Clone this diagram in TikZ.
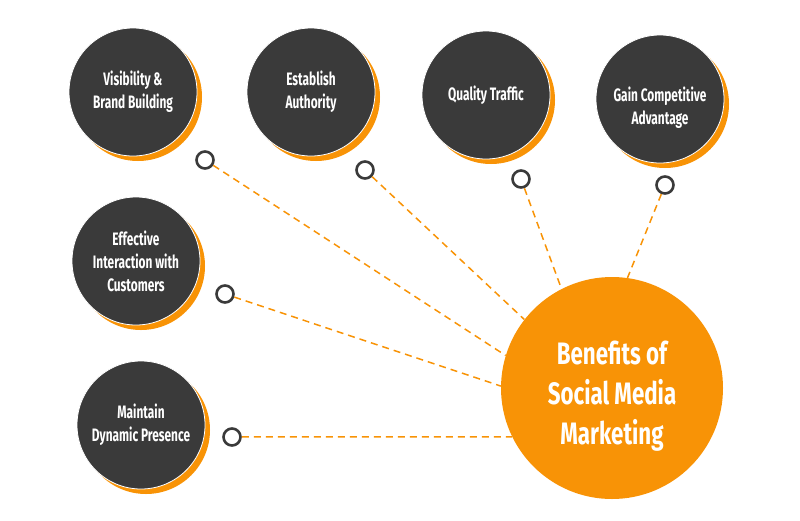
\documentclass[tikz,border=0pt]{standalone}
\usepackage{fontspec}
\setmainfont{Fira Sans}[FakeStretch=0.66]
\newfontfamily\hubfont{Fira Sans}[FakeStretch=0.72]
\usetikzlibrary{shadows}
\definecolor{benefitorange}{RGB}{248,147,6}
\definecolor{benefitdark}{RGB}{58,58,58}
\begin{document}
\begin{tikzpicture}[x=1pt, y=-1pt,
    benefit/.style={circle, fill=benefitdark, draw=white, line width=0.8pt,
      minimum size=128pt, inner sep=0pt, text=white, align=center,
      font=\bfseries\fontsize{18}{23}\selectfont,
      drop shadow={shadow xshift=5pt, shadow yshift=-5pt, fill=benefitorange, opacity=1}},
    hub/.style={circle, fill=benefitorange, minimum size=222pt, inner sep=0pt,
      text=white, align=center, font=\hubfont\bfseries\fontsize{31}{40}\selectfont},
    port/.style={circle, draw=benefitdark, line width=2.6pt, fill=white,
      minimum size=17pt, inner sep=0pt},
    link/.style={benefitorange, line width=1.5pt, dash pattern=on 7pt off 5pt}]
  \useasboundingbox (0,0) rectangle (800,520);
  % centre
  \node[hub] (H) at (612,388) {\rule{0pt}{40pt}Benefits of\\Social Media\\Marketing};
  % benefits
  \node[benefit] (B1) at (133,92) {Visibility \&\\Brand Building};
  \node[benefit] (B2) at (311,92) {Establish\\Authority};
  \node[benefit] (B3) at (486,95) {Quality Traffic};
  \node[benefit] (B4) at (660,99) {\rule{0pt}{31pt}Gain Competitive\\Advantage};
  \node[benefit] (B5) at (136,261) {Effective\\Interaction with\\Customers};
  \node[benefit] (B6) at (141,425) {Maintain\\Dynamic Presence};
  % ports
  \node[port] (P1) at (205,160) {};
  \node[port] (P2) at (365,170) {};
  \node[port] (P3) at (521,179) {};
  \node[port] (P4) at (665,185) {};
  \node[port] (P5) at (225,294) {};
  \node[port] (P6) at (232,437) {};
  \draw[link] (P1) -- (H.163);
  \draw[link] (P2) -- (H.142);
  \draw[link] (P3) -- (H.117);
  \draw[link] (P4) -- (H.82);
  \draw[link] (P5) -- (H.179);
  \draw[link] (P6) -- (H.206);
\end{tikzpicture}
\end{document}
